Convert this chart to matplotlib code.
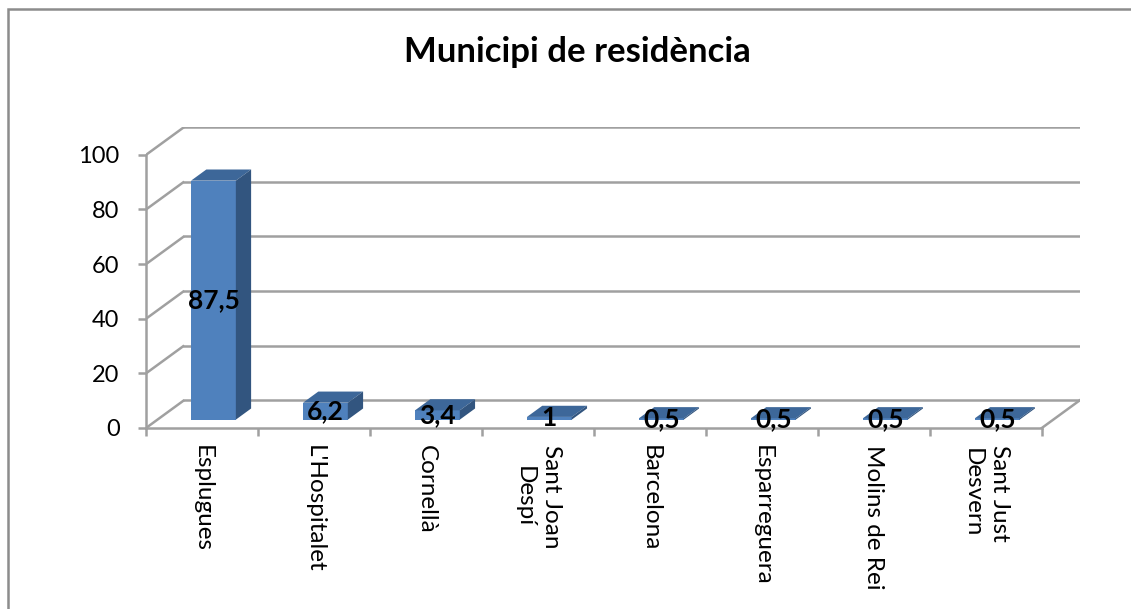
import matplotlib.pyplot as plt
from matplotlib.patches import Polygon, Rectangle

# Data
municipis = ['Esplugues', "L'Hospitalet", 'Cornellà', 'Sant Joan\nDespí', 'Barcelona',
             'Esparreguera', 'Molins de Rei', 'Sant Just\nDesvern']
percentatges = [87.5, 6.2, 3.4, 1, 0.5, 0.5, 0.5, 0.5]
yticks = [0, 20, 40, 60, 80, 100]

plt.rcParams['font.family'] = ['Lato', 'DejaVu Sans']

# depth of the fake 3D box, in data units
DX = 0.341
DY = 10.2
GRID = '#a0a0a0'
FRONT = '#4f81bd'
TOP = '#3d6799'
SIDE = '#32557f'

fig = plt.figure(figsize=(11.31, 6.09), dpi=100)
W, H = 1131, 609
ax = fig.add_axes([146 / W, (H - 428) / H, 934 / W, 301 / H])
ax.set_xlim(0, len(municipis) + DX)
ax.set_ylim(0, 100 + DY)
ax.patch.set_alpha(0)

# back wall and side wall grid
n = len(municipis)
for v in yticks:
    ax.plot([0, DX], [v, v + DY], color=GRID, lw=1.8, zorder=1, solid_capstyle='butt')
    ax.plot([DX, n + DX], [v + DY, v + DY], color=GRID, lw=1.8, zorder=1)
ax.plot([n, n + DX], [0, DY], color=GRID, lw=1.8, zorder=1)

# bars: front face plus top and side faces
d0, d1 = 0.3, 0.7
bw = 0.4
dd = d1 - d0
xs = [i + 0.5 + d0 * DX for i in range(n)]
base = d0 * DY
ax.bar(xs, percentatges, width=bw, bottom=base, color=FRONT, zorder=3)
for x, v in zip(xs, percentatges):
    l, r = x - bw / 2, x + bw / 2
    top = base + v
    ax.add_patch(Polygon([(l, top), (r, top), (r + dd * DX, top + dd * DY),
                          (l + dd * DX, top + dd * DY)], closed=True,
                         facecolor=TOP, edgecolor='none', zorder=3))
    ax.add_patch(Polygon([(r, base), (r, top), (r + dd * DX, top + dd * DY),
                          (r + dd * DX, base + dd * DY)], closed=True,
                         facecolor=SIDE, edgecolor='none', zorder=3))
    ax.text(x, base + v / 2, f'{v:g}'.replace('.', ','), ha='center', va='center',
            fontsize=19, fontweight='bold', color='black', zorder=5)

# axes
for s in ['top', 'right']:
    ax.spines[s].set_visible(False)
ax.spines['left'].set_bounds(0, 100)
ax.spines['bottom'].set_bounds(0, n)
for s in ['left', 'bottom']:
    ax.spines[s].set_color(GRID)
    ax.spines[s].set_linewidth(1.8)
    ax.spines[s].set_zorder(4)

ax.set_yticks(yticks)
ax.set_yticklabels([str(t) for t in yticks], fontsize=17)
ax.tick_params(axis='y', length=6, width=1.8, color=GRID, pad=13)

ax.set_xticks(range(n + 1))
ax.set_xticklabels([])
ax.set_xticks([i + 0.5 for i in range(n)], minor=True)
ax.set_xticklabels(municipis, minor=True, rotation=270, fontsize=17.5, va='top', ha='center',
                   linespacing=1.35)
ax.tick_params(axis='x', which='major', length=6, width=1.8, color=GRID)
ax.tick_params(axis='x', which='minor', length=0, pad=12)

fig.text(577 / W, 1 - 52 / H, 'Municipi de residència', ha='center', va='center',
         fontsize=25, fontweight='bold')

# chart area border
fig.add_artist(Rectangle((8 / W, -0.1), 1.2, 1 - 9 / H + 0.1, transform=fig.transFigure,
                         fill=False, edgecolor='#8c8c8c', lw=1.8))

fig.savefig('out.png', dpi=100)
